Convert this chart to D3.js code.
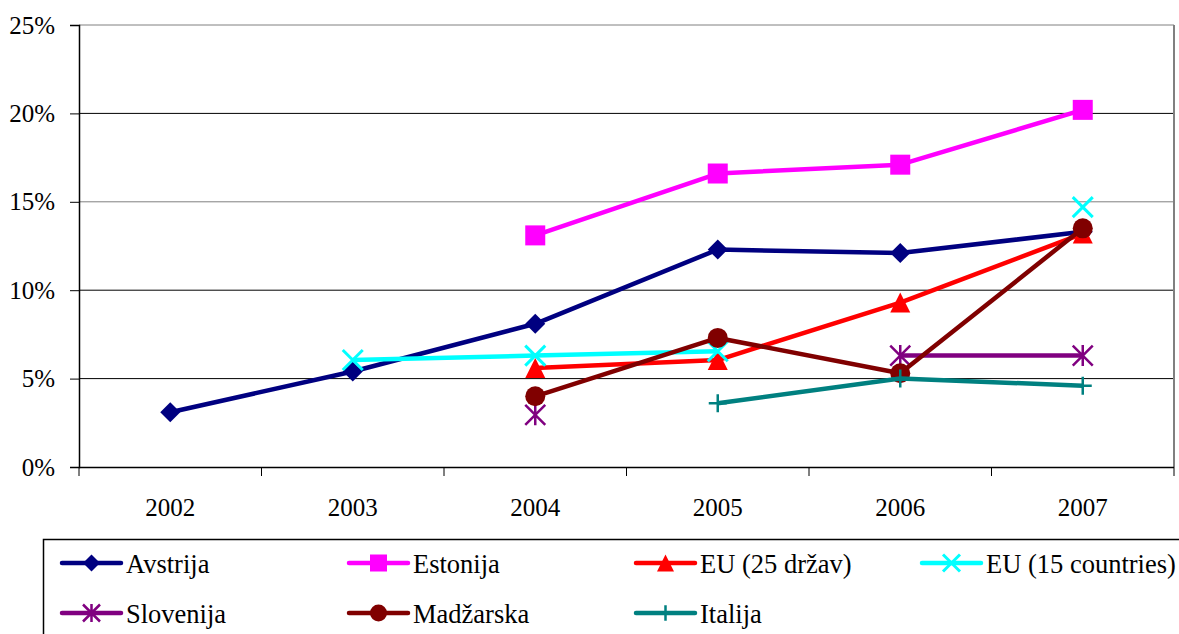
<!DOCTYPE html>
<html><head><meta charset="utf-8">
<script src="https://cdn.jsdelivr.net/npm/d3@7"></script>
<style>body{margin:0;background:#fff}svg{display:block}</style>
</head><body>
<svg id="c" width="1179" height="634"></svg>
<script>
const years = ["2002","2003","2004","2005","2006","2007"];
const yTicks = [0,5,10,15,20,25];
const seriesNames = ["Avstrija","Estonija","EU (25 držav)","EU (15 countries)","Slovenija","Madžarska","Italija"];
const avstrija   = [3.1, 5.4, 8.1, 12.3, 12.1, 13.3];
const estonija   = [null, null, 13.1, 16.6, 17.1, 20.2];
const eu25       = [null, null, 5.6, 6.05, 9.3, 13.2];
const eu15       = [null, 6.05, 6.3, 6.55, null, 14.7];
const slovenija  = [null, null, 2.95, null, 6.3, 6.3];
const madzarska  = [null, null, 4.0, 7.3, 5.3, 13.5];
const italija    = [null, null, null, 3.6, 5.0, 4.6];
const seriesValues = [avstrija, estonija, eu25, eu15, slovenija, madzarska, italija];
const colors = ["#000080","#ff00ff","#ff0000","#00ffff","#800080","#800000","#008080"];
const markers = ["diamond","square","triangle","x","star","circle","plus"];
const FONT = "Liberation Serif";

const svg = d3.select("#c");
const L = 79, R = 1174, T = 25, B = 467;
const x = d3.scaleBand().domain(years).range([L, R]);
const y = d3.scaleLinear().domain([0, 25]).range([B, T]);

// gridlines
svg.append("g").selectAll("line").data(yTicks.filter(d => d > 0)).join("line")
  .attr("x1", L).attr("x2", R).attr("y1", d => y(d)).attr("y2", d => y(d))
  .attr("stroke", d => (d === 15 || d === 25) ? "#808080" : "#000").attr("stroke-width", 1);
svg.append("line").attr("x1", R).attr("x2", R).attr("y1", T).attr("y2", B).attr("stroke", "#808080").attr("stroke-width", 2);

// y axis
const yAxis = svg.append("g").attr("transform", `translate(${L},0)`)
  .call(d3.axisLeft(y).tickValues(yTicks).tickFormat(d => d + "%").tickSize(9).tickPadding(15));
yAxis.select(".domain").attr("stroke", "#000").attr("stroke-width", 1.5);
yAxis.selectAll(".tick line").attr("stroke", "#000");

// x axis
const xAxis = svg.append("g").attr("transform", `translate(0,${B})`)
  .call(d3.axisBottom(x).tickSize(0).tickPadding(31));
xAxis.select(".domain").attr("d", `M${L},0.5H${R}`).attr("stroke", "#000").attr("stroke-width", 1.5);
svg.append("g").selectAll("line").data(d3.range(years.length + 1)).join("line")
  .attr("x1", i => L + i * x.step()).attr("x2", i => L + i * x.step())
  .attr("y1", B).attr("y2", B + 9).attr("stroke", "#000").attr("stroke-width", 1);
[yAxis, xAxis].forEach(a => a.attr("font-family", FONT).attr("font-size", 25)
  .selectAll("text").attr("fill", "#000"));

function drawMarker(g, type, cx, cy, color, s) {
  const k = s || 1;
  const r = 10 * k;
  if (type === "diamond") {
    g.append("path").attr("d", `M${cx},${cy-r}L${cx+r},${cy}L${cx},${cy+r}L${cx-r},${cy}Z`).attr("fill", color);
  } else if (type === "square") {
    g.append("rect").attr("x", cx-r).attr("y", cy-r).attr("width", 2*r).attr("height", 2*r).attr("fill", color);
  } else if (type === "triangle") {
    g.append("path").attr("d", `M${cx},${cy-r}L${cx+r},${cy+r}L${cx-r},${cy+r}Z`).attr("fill", color);
  } else if (type === "circle") {
    g.append("circle").attr("cx", cx).attr("cy", cy).attr("r", r).attr("fill", color);
  } else if (type === "x") {
    g.append("path").attr("d", `M${cx-r},${cy-r}L${cx+r},${cy+r}M${cx-r},${cy+r}L${cx+r},${cy-r}`).attr("stroke", color).attr("stroke-width", 3);
  } else if (type === "star") {
    g.append("path").attr("d", `M${cx-r},${cy-r}L${cx+r},${cy+r}M${cx-r},${cy+r}L${cx+r},${cy-r}M${cx},${cy-r*1.05}V${cy+r*1.05}`).attr("stroke", color).attr("stroke-width", 2.5);
  } else if (type === "plus") {
    const p = 9 * k;
    g.append("path").attr("d", `M${cx-p},${cy}H${cx+p}M${cx},${cy-p}V${cy+p}`).attr("stroke", color).attr("stroke-width", 2.5);
  }
}

const line = d3.line().defined(d => d.v != null).x(d => x(d.year) + x.bandwidth()/2).y(d => y(d.v));
seriesValues.forEach((vals, i) => {
  const pts = years.map((yr, j) => ({year: yr, v: vals[j]}));
  const g = svg.append("g");
  g.append("path").datum(pts).attr("d", line).attr("fill", "none")
    .attr("stroke", colors[i]).attr("stroke-width", 4.5).attr("stroke-linejoin", "round");
  pts.filter(d => d.v != null).forEach(d => drawMarker(g, markers[i], x(d.year) + x.bandwidth()/2, y(d.v), colors[i]));
});

// legend
svg.append("rect").attr("x", 43.5).attr("y", 539.5).attr("width", 1200).attr("height", 200)
  .attr("fill", "none").attr("stroke", "#000").attr("stroke-width", 1.5);
const legX = [62, 349, 636, 922];
const legY = [563, 613];
seriesNames.forEach((name, i) => {
  const col = i < 4 ? i : i - 4;
  const row = i < 4 ? 0 : 1;
  const lx = legX[col], ly = legY[row];
  const g = svg.append("g");
  g.append("line").attr("x1", lx).attr("x2", lx + 59).attr("y1", ly).attr("y2", ly)
    .attr("stroke", colors[i]).attr("stroke-width", 4.5).attr("stroke-linecap", "round");
  drawMarker(g, markers[i], lx + 29.5, ly, colors[i], 0.85);
  g.append("text").attr("x", lx + 64).attr("y", ly + 10).attr("font-family", FONT).attr("font-size", 26.5).text(name);
});
</script>
</body></html>
